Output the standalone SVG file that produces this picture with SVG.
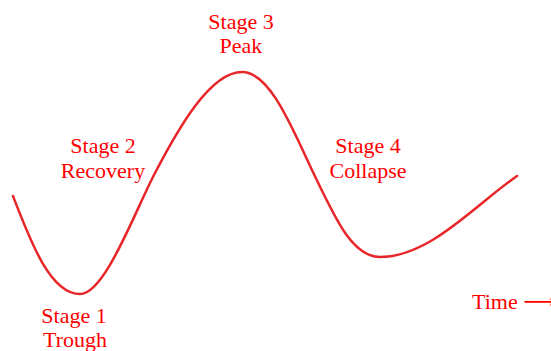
<svg xmlns="http://www.w3.org/2000/svg" width="551" height="351" viewBox="0 0 551 351">
<style>
text{font-family:"Liberation Serif","DejaVu Serif",serif;font-size:22px;fill:#ff0000;text-anchor:middle}
.curve{fill:none;stroke:#e8262a;stroke-width:2.5;stroke-linecap:round;stroke-linejoin:round}
</style>
<rect width="551" height="351" fill="#ffffff"/>
<g id="curve">
<path class="curve" d="M13,196 C30,240 50,294 80,294 C105,294 135,211 155,173 C178,129 210,72 242,72 C270,72 292,128 312,170 C335,218 352,257 380,257 C430,257 475,205 517,176"/>
</g>
<g id="stage1"><text x="74" y="323">Stage 1</text><text x="75" y="347">Trough</text></g>
<g id="stage2"><text x="103" y="153">Stage 2</text><text x="103" y="178">Recovery</text></g>
<g id="stage3"><text x="241" y="29">Stage 3</text><text x="241" y="53">Peak</text></g>
<g id="stage4"><text x="368" y="153">Stage 4</text><text x="368" y="178">Collapse</text></g>
<g id="time"><text x="472" y="309" style="text-anchor:start">Time ⟶</text></g>
</svg>
